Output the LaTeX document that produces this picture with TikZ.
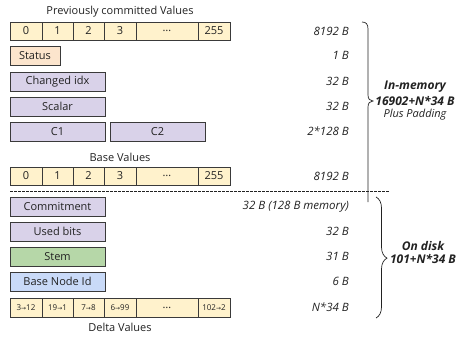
\documentclass[tikz,border=0pt]{standalone}
\usepackage{fontspec}
\setmainfont{Open Sans}
\newfontfamily\arrowfont{DejaVu Sans}
\usetikzlibrary{decorations.pathreplacing}

\definecolor{cellfill}{HTML}{FFF2CC}
\definecolor{statusfill}{HTML}{FCE5CD}
\definecolor{lavender}{HTML}{D9D2E9}
\definecolor{stemfill}{HTML}{B6D7A8}
\definecolor{bluefill}{HTML}{C9DAF8}
\definecolor{edge}{HTML}{3A3A3A}
\definecolor{ink}{HTML}{222222}

\newcommand{\ar}{{\arrowfont\scalebox{0.75}{→}}}

\tikzset{
  box/.style={draw=edge, line width=0.7pt, inner sep=0pt, text=ink,
    font=\fontsize{11}{12}\selectfont},
  cell/.style={box, fill=cellfill, minimum height=18pt},
  dcell/.style={cell, minimum height=19pt, font=\fontsize{8}{9}\selectfont},
  field/.style={box, minimum height=19pt, minimum width=95pt},
  size/.style={anchor=east, inner sep=0pt, text=ink,
    font=\fontsize{11.5}{12}\selectfont\itshape},
  caption/.style={inner sep=0pt, text=ink, font=\fontsize{11}{12}\selectfont},
  total/.style={inner sep=0pt, text=ink, font=\fontsize{12}{13}\selectfont\bfseries\itshape},
  brace/.style={draw=ink, line width=0.7pt},
}

\begin{document}
\begin{tikzpicture}[x=1pt, y=-1pt]
\useasboundingbox (0,0) rectangle (460,337);

% previously committed values
\node[caption] (prevcap) at (120,12) {Previously committed Values};
\node[cell, minimum width=32pt] (p0) at (26,31) {0};
\node[cell, minimum width=31pt] (p1) at (57.5,31) {1};
\node[cell, minimum width=31pt] (p2) at (88.5,31) {2};
\node[cell, minimum width=32pt] (p3) at (120,31) {3};
\node[cell, minimum width=62pt] (pd) at (167,31) {\dots};
\node[cell, minimum width=32pt] (p255) at (214,31) {255};

% per-node fields
\node[box, fill=statusfill, minimum width=50pt, minimum height=19pt] (status) at (35,55.5) {Status};
\node[field, fill=lavender] (changed) at (57.5,81.5) {Changed idx};
\node[field, fill=lavender] (scalar) at (57.5,106.5) {Scalar};
\node[field, fill=lavender] (c1) at (57.5,131.5) {C1};
\node[field, fill=lavender] (c2) at (157.5,131.5) {C2};

% base values
\node[caption] (basecap) at (120,157) {Base Values};
\node[cell, minimum width=32pt] (b0) at (26,176) {0};
\node[cell, minimum width=31pt] (b1) at (57.5,176) {1};
\node[cell, minimum width=31pt] (b2) at (88.5,176) {2};
\node[cell, minimum width=32pt] (b3) at (120,176) {3};
\node[cell, minimum width=62pt] (bd) at (167,176) {\dots};
\node[cell, minimum width=32pt] (b255) at (214,176) {255};

% memory / disk separator
\coordinate (sepL) at (10,191);
\coordinate (sepR) at (390,191);
\draw[ink, line width=0.6pt, dash pattern=on 2.5pt off 1.5pt] (sepL) -- (sepR);

% on-disk fields
\node[field, fill=lavender] (commit) at (57.5,206.5) {Commitment};
\node[field, fill=lavender] (used) at (57.5,231.5) {Used bits};
\node[field, fill=stemfill] (stem) at (57.5,256.5) {Stem};
\node[field, fill=bluefill] (basenode) at (57.5,281.5) {Base Node Id};

% delta values
\node[dcell, minimum width=32pt] (d0) at (26,307.5) {3\ar12};
\node[dcell, minimum width=31pt] (d1) at (57.5,307.5) {19\ar1};
\node[dcell, minimum width=31pt] (d2) at (88.5,307.5) {7\ar8};
\node[dcell, minimum width=32pt] (d3) at (120,307.5) {6\ar99};
\node[dcell, minimum width=62pt, font=\fontsize{11}{12}\selectfont] (dd) at (167,307.5) {\dots};
\node[dcell, minimum width=32pt] (dn) at (214,307.5) {102\ar2};
\node[caption] (deltacap) at (120,327) {Delta Values};

% sizes
\node[size] (s1) at (349,31) {8192 B};
\node[size] (s2) at (349,55.5) {1 B};
\node[size] (s3) at (349,81.5) {32 B};
\node[size] (s4) at (349,106.5) {32 B};
\node[size] (s5) at (349,131.5) {2*128 B};
\node[size] (s6) at (349,176) {8192 B};
\node[size] (s7) at (349,206.5) {32 B (128 B memory)};
\node[size] (s8) at (349,231.5) {32 B};
\node[size] (s9) at (349,256.5) {31 B};
\node[size] (s10) at (349,281.5) {6 B};
\node[size] (s11) at (349,307.5) {N*34 B};

% in-memory brace
\draw[brace] (362,22) .. controls (366,22) and (368,24) .. (368,29)
  -- (368,95) .. controls (368,99) and (370,101) .. (373,101)
  .. controls (370,101) and (368,103) .. (368,107) -- (368,202);
\node[total] (memt) at (415,87) {In-memory};
\node[total] (memn) at (415,101) {16902+N*34 B};
\node[caption, font=\fontsize{11}{12}\selectfont\itshape] (memp) at (415,115) {Plus Padding};

% on-disk brace
\draw[brace, decorate, decoration={brace, amplitude=11pt, aspect=0.505}] (376,197) -- (376,318);
\node[total] (diskt) at (423,246) {On disk};
\node[total] (diskn) at (423,259) {101+N*34 B};
\end{tikzpicture}
\end{document}
